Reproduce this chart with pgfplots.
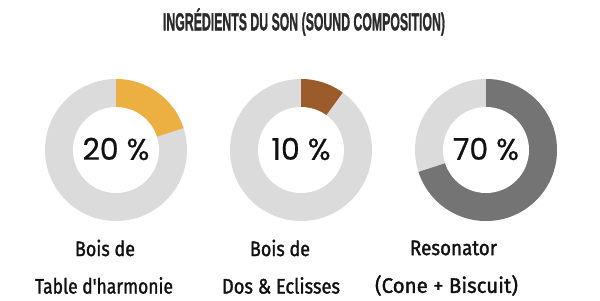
\documentclass[border=0pt]{standalone}
\usepackage{pgfplots}
\pgfplotsset{compat=1.18}
\usepackage{fontspec}
\usepackage{graphicx}
\setmainfont{Poppins}
\newfontfamily\pctfont{Poppins}[FakeBold=0.6]
\newfontfamily\titlefont{Liberation Sans}[BoldFeatures={FakeBold=1.5}]
\newfontfamily\labelfont{Fira Sans}[FakeBold=1.5]
\definecolor{ringbg}{HTML}{DBDBDB}
\definecolor{cA}{HTML}{EBB041}
\definecolor{cB}{HTML}{9C5B2A}
\definecolor{cC}{HTML}{747474}
\definecolor{txt}{HTML}{111111}
\definecolor{ttl}{HTML}{2B2B2B}
\newcommand{\donut}[4]{%
  \fill[ringbg] (axis cs:#1,#2) circle[radius=71bp];
  \fill[#4] (axis cs:#1,#2) -- ++(90:71bp) arc[start angle=90,end angle={90-3.6*#3},radius=71bp] -- cycle;
  \fill[white] (axis cs:#1,#2) circle[radius=43bp];
  \node[text=txt,font=\pctfont\fontsize{30bp}{30bp}\selectfont] at (axis cs:#1,#2+1) {#3 \%};
}
\newcommand{\lab}[4]{%
  \node[text=txt,inner sep=0pt] at (axis cs:#1,#2) {\resizebox{#3bp}{\height}{\labelfont\fontsize{21bp}{21bp}\selectfont #4}};
}
\begin{document}
\begin{tikzpicture}
\begin{axis}[x=1bp,y=1bp,xmin=0,xmax=600,ymin=0,ymax=300,
  scale only axis,hide axis,clip=false]
\path (axis cs:0,0) rectangle (axis cs:600,300);
\node[text=ttl,inner sep=0pt] at (axis cs:304,278) {\resizebox{282bp}{22bp}{\titlefont\bfseries\fontsize{24bp}{24bp}\selectfont INGRÉDIENTS DU SON (SOUND COMPOSITION)}};
\donut{116}{150}{20}{cA}
\donut{301}{150}{10}{cB}
\donut{486}{150}{70}{cC}
\lab{105}{52}{60}{Bois de}
\lab{104}{14.5}{138}{Table d'harmonie}
\lab{280}{52}{60}{Bois de}
\lab{281}{14.5}{118}{Dos \& Eclisses}
\lab{453.5}{52}{87}{Resonator}
\lab{446.5}{14.5}{143}{(Cone + Biscuit)}
\end{axis}
\end{tikzpicture}
\end{document}
